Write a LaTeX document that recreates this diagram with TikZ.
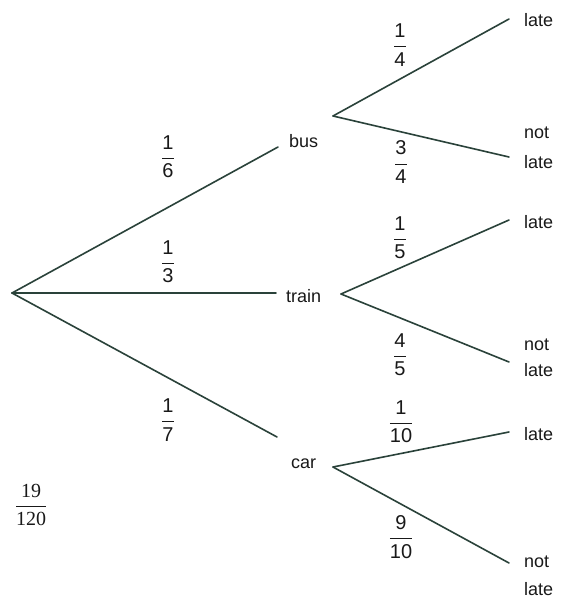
\documentclass[tikz,border=0pt]{standalone}
\usepackage{fontspec}
\setmainfont{Liberation Sans}
\newfontfamily\serifnum{Liberation Serif}
\definecolor{linec}{RGB}{42,66,58}
\definecolor{txt}{RGB}{25,25,25}
\newcommand{\fr}[2]{$\displaystyle\frac{\mbox{#1}}{\mbox{#2}}$}
\begin{document}
\begin{tikzpicture}[x=1pt,y=-1pt,
  branch/.style={line width=1.6pt, draw=linec, line cap=round},
  lbl/.style={font=\fontsize{18}{18}\selectfont, text=txt, inner sep=0pt, anchor=base west},
  prob/.style={font=\fontsize{20}{20}\selectfont, text=txt, inner sep=0pt}]
\fill[white] (0,0) rectangle (560,599);
\useasboundingbox (0,0) rectangle (560,599);
% points
\coordinate (root) at (12,293);
\coordinate (busend) at (278,147);
\coordinate (trainend) at (276,293);
\coordinate (carend) at (277,437);
\coordinate (busfork) at (333,116);
\coordinate (trainfork) at (341,294);
\coordinate (carfork) at (333,467);
\coordinate (bl) at (509,19);
\coordinate (bn) at (509,157);
\coordinate (tl) at (509,220);
\coordinate (tn) at (509,362);
\coordinate (cl) at (509,432);
\coordinate (cn) at (509,563);
% branches
\draw[branch] (root) -- (busend);
\draw[branch] (root) -- (trainend);
\draw[branch] (root) -- (carend);
\draw[branch] (busfork) -- (bl);
\draw[branch] (busfork) -- (bn);
\draw[branch] (trainfork) -- (tl);
\draw[branch] (trainfork) -- (tn);
\draw[branch] (carfork) -- (cl);
\draw[branch] (carfork) -- (cn);
% labels
\node[lbl] (bus) at (289,147) {bus};
\node[lbl] (train) at (286,302) {train};
\node[lbl] (car) at (291,468) {car};
\node[lbl] (l1) at (524,27) {late};
\node[lbl] (n1) at (524,138) {not};
\node[lbl] (n1b) at (524,168) {late};
\node[lbl] (l2) at (524,228) {late};
\node[lbl] (n2) at (524,350) {not};
\node[lbl] (n2b) at (524,376) {late};
\node[lbl] (l3) at (524,440) {late};
\node[lbl] (n3) at (524,567) {not};
\node[lbl] (n3b) at (524,595) {late};
% probabilities
\node[prob] (p16) at (168,157) {\fr{1}{6}};
\node[prob] (p13) at (168,262) {\fr{1}{3}};
\node[prob] (p17) at (168,420) {\fr{1}{7}};
\node[prob] (p14) at (400,45) {\fr{1}{4}};
\node[prob] (p34) at (401,162) {\fr{3}{4}};
\node[prob] (p15) at (400,238) {\fr{1}{5}};
\node[prob] (p45) at (400,355) {\fr{4}{5}};
\node[prob] (p110) at (401,422) {\fr{1}{10}};
\node[prob] (p910) at (401,537) {\fr{9}{10}};
\node[prob, font=\fontsize{20}{20}\selectfont\serifnum] (ans) at (31,505) {\fr{19}{120}};
\end{tikzpicture}
\end{document}
